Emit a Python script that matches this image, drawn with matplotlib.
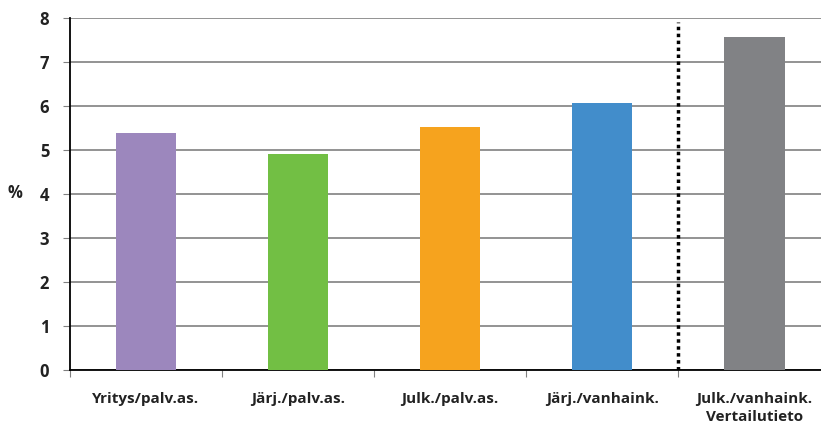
import matplotlib.pyplot as plt
from matplotlib.ticker import FixedLocator, NullFormatter

# luokat ja arvot (%)
luokat = ["Yritys/palv.as.", "Järj./palv.as.", "Julk./palv.as.", "Järj./vanhaink.", "Julk./vanhaink.\nVertailutieto"]
arvot = [5.39, 4.91, 5.52, 6.07, 7.57]
varit = ["#9c87bd", "#72bf44", "#f6a31e", "#428dcb", "#818285"]

plt.rcParams["font.family"] = ["Open Sans", "DejaVu Sans"]

fig = plt.figure(figsize=(8.21, 4.25), dpi=100)
ax = fig.add_axes([70 / 821, 55 / 425, 1 - 70 / 821, 352 / 425])

x = list(range(len(luokat)))
ax.bar(x, arvot, width=0.4, color=varit, zorder=3)

# pystysuora katkoviiva vertailutiedon eteen
ax.plot([3.5, 3.5], [0, 7.9], color="black", linestyle=(0, (1, 1)), linewidth=2.5, zorder=4)

ax.set_ylim(0, 8)
ax.set_xlim(-0.5, 4.44)
ax.set_yticks(range(9))
ax.yaxis.grid(True, color="#808080", linewidth=1.2, zorder=0)

# jakoviivat luokkien välissä, nimet keskellä
ax.xaxis.set_major_locator(FixedLocator([-0.5, 0.5, 1.5, 2.5, 3.5]))
ax.xaxis.set_major_formatter(NullFormatter())
ax.xaxis.set_minor_locator(FixedLocator(x))
ax.set_xticklabels(luokat, minor=True, fontsize=11, fontweight="bold", color="#222222", linespacing=1.35)
ax.tick_params(axis="x", which="major", length=5, color="#808080", direction="out")
ax.tick_params(axis="x", which="minor", length=0, pad=16)
ax.tick_params(axis="y", length=5, color="#808080", labelsize=12, pad=10)
for t in ax.get_yticklabels():
    t.set_fontweight("bold")
    t.set_color("#222222")

for s in ["top", "right"]:
    ax.spines[s].set_visible(False)
ax.spines["left"].set_linewidth(1.3)
ax.spines["bottom"].set_linewidth(1.3)

fig.text(15 / 821, 1 - 193 / 425, "%", fontsize=12, fontweight="bold", color="#222222", va="center", ha="center")

fig.savefig("out.png", dpi=100)
